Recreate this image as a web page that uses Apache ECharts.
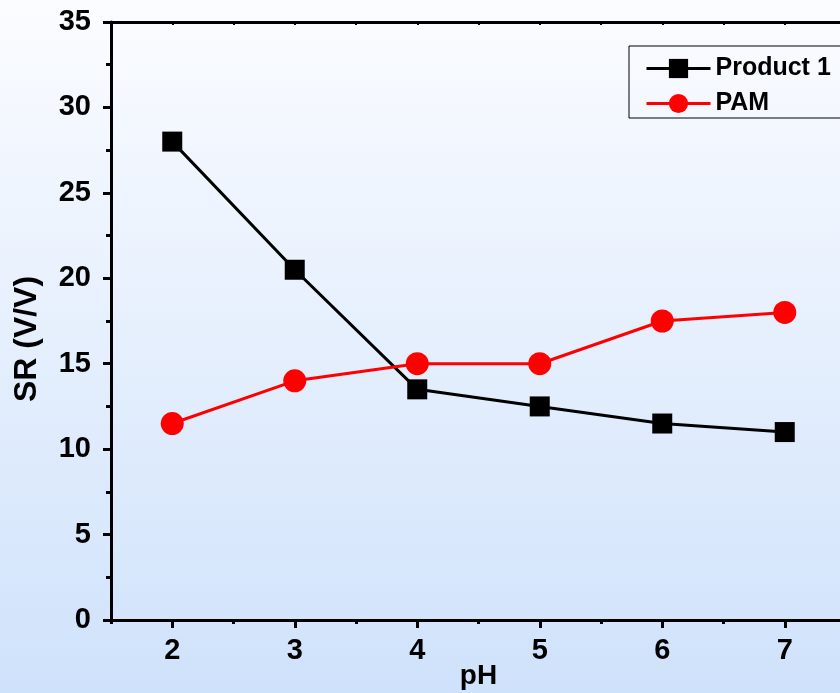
<!DOCTYPE html>
<html><head><meta charset="utf-8">
<script src="https://cdn.jsdelivr.net/npm/echarts@6/dist/echarts.min.js"></script>
<style>html,body{margin:0;padding:0;}#c{width:840px;height:693px;}</style>
</head><body><div id="c"></div>
<script>
const phValues = [2, 3, 4, 5, 6, 7];
const product1 = [28, 20.5, 13.5, 12.5, 11.5, 11];
const pam = [11.5, 14, 15, 15, 17.5, 18];
const xTickLabels = [2, 3, 4, 5, 6, 7];

const FONT = '"Liberation Sans", Arial, sans-serif';
const chart = echarts.init(document.getElementById('c'));
const grid = { left: 111, right: -6, top: 22, bottom: 73, containLabel: false, outerBoundsMode: 'none' };
chart.setOption({
  backgroundColor: new echarts.graphic.LinearGradient(0, 0, 0, 1, [
    { offset: 0, color: '#fbfcff' },
    { offset: 1, color: '#cfe2fb' }
  ]),
  animation: false,
  grid: grid,
  legend: {
    left: 629, top: 46,
    orient: 'vertical',
    padding: [10, 30, 2, 16],
    itemWidth: 64, itemHeight: 24, itemGap: 10,
    borderColor: '#000', borderWidth: 1,
    lineStyle: { width: 3 },
    textStyle: { fontFamily: FONT, fontWeight: 'bold', fontSize: 25, color: '#000' },
    data: ['Product 1', 'PAM']
  },
  xAxis: [
    {
      type: 'value', min: 1.5, max: 7.5, position: 'bottom',
      name: 'pH', nameLocation: 'middle', nameGap: 42, nameMoveOverlap: false,
      nameTextStyle: { fontFamily: FONT, fontWeight: 'bold', fontSize: 28, color: '#000' },
      axisLine: { lineStyle: { color: '#000', width: 3 } },
      axisTick: { show: true, length: 8, lineStyle: { width: 3, color: '#000' }, customValues: xTickLabels },
      axisLabel: { customValues: xTickLabels, margin: 16, fontFamily: FONT, fontWeight: 'bold', fontSize: 29, color: '#000' },
      splitLine: { show: false }
    },
    {
      type: 'value', min: 1.5, max: 7.5, interval: 0.5, position: 'bottom',
      axisLine: { show: false },
      axisTick: { show: true, length: 4, lineStyle: { width: 3, color: '#000' } },
      axisLabel: { show: false },
      splitLine: { show: false }
    },
    {
      type: 'value', min: 1.5, max: 7.5, interval: 0.5, position: 'top',
      axisLine: { show: true, lineStyle: { color: '#000', width: 3 } },
      axisTick: { show: true, inside: true, length: 3, lineStyle: { width: 2, color: '#000' } },
      axisLabel: { show: false },
      splitLine: { show: false }
    }
  ],
  yAxis: {
    type: 'value', min: 0, max: 35, interval: 5,
    name: 'SR (V/V)', nameLocation: 'middle', nameGap: 68, nameMoveOverlap: false,
    nameTextStyle: { fontFamily: FONT, fontWeight: 'bold', fontSize: 32, color: '#000', padding: [0, 36, 0, 0] },
    axisLine: { show: true, lineStyle: { color: '#000', width: 3 } },
    axisTick: { show: true, length: 8, lineStyle: { width: 3, color: '#000' } },
    minorTick: { show: true, splitNumber: 2, length: 5, lineStyle: { width: 3, color: '#000' } },
    axisLabel: { margin: 20, fontFamily: FONT, fontWeight: 'bold', fontSize: 29, color: '#000' },
    splitLine: { show: false }
  },
  series: [
    {
      name: 'Product 1', type: 'line', xAxisIndex: 0,
      data: phValues.map((x, i) => [x, product1[i]]),
      symbol: 'rect', symbolSize: 20,
      itemStyle: { color: '#000' },
      lineStyle: { color: '#000', width: 3 }
    },
    {
      name: 'PAM', type: 'line', xAxisIndex: 0,
      data: phValues.map((x, i) => [x, pam[i]]),
      symbol: 'circle', symbolSize: 23,
      itemStyle: { color: '#ff0000' },
      lineStyle: { color: '#ff0000', width: 3 }
    }
  ]
});
</script></body></html>
